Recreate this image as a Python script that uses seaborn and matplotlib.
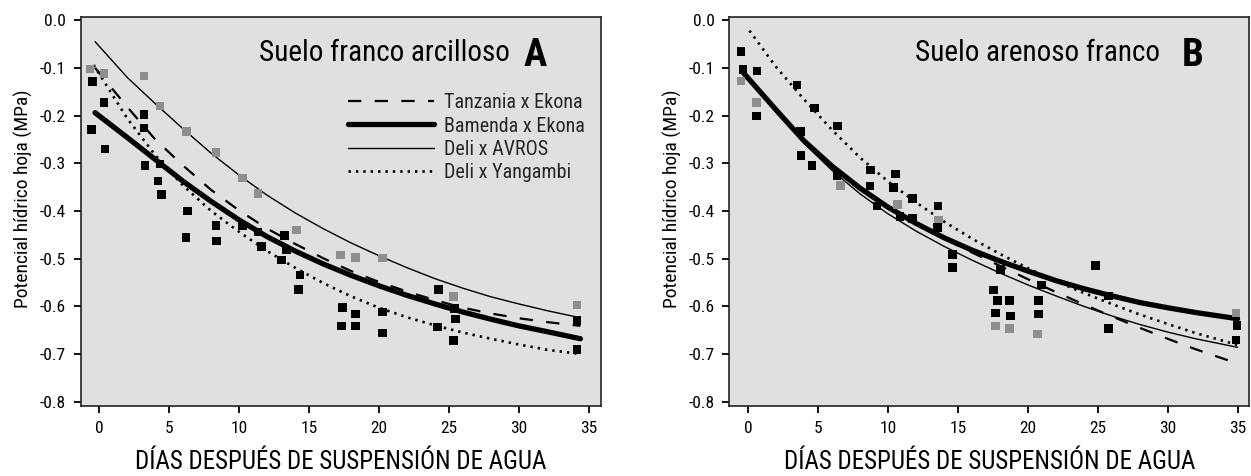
import matplotlib
matplotlib.use("Agg")
import matplotlib.pyplot as plt
import seaborn as sns
import pandas as pd
from matplotlib.lines import Line2D
from matplotlib import font_manager

# ---------------- data ----------------
genotypes = ["Tanzania x Ekona", "Bamenda x Ekona", "Deli x AVROS", "Deli x Yangambi"]

# Panel A - Suelo franco arcilloso
A_black_x = [-0.47, -0.54, 0.34, 0.41, 3.19, 3.19, 3.26, 4.34, 4.19, 4.45, 6.31, 6.19, 8.34, 8.39,
             10.24, 11.36, 11.6, 13.26, 13.38, 13.03, 14.34, 14.24, 17.38, 17.34, 18.34, 18.34,
             20.24, 20.24, 24.26, 24.17, 25.4, 25.48, 25.34, 34.17, 34.17]
A_black_y = [-0.129, -0.229, -0.173, -0.270, -0.198, -0.226, -0.305, -0.302, -0.337, -0.366, -0.400,
             -0.456, -0.430, -0.463, -0.432, -0.444, -0.475, -0.452, -0.482, -0.503, -0.534, -0.565,
             -0.603, -0.641, -0.616, -0.641, -0.612, -0.656, -0.565, -0.643, -0.604, -0.627, -0.672,
             -0.630, -0.691]
A_gray_x = [-0.66, 0.34, 3.19, 4.34, 6.24, 8.34, 10.24, 11.34, 14.1, 17.26, 18.34, 20.24, 25.34, 34.17]
A_gray_y = [-0.102, -0.112, -0.117, -0.180, -0.234, -0.278, -0.331, -0.364, -0.440, -0.492, -0.498,
            -0.499, -0.579, -0.597]

A_curve_x = [-0.3, 2, 4, 6, 8, 10, 12, 14, 16, 18, 20, 22, 24, 26, 28, 30, 32, 34.4]
A_tanzania = [-0.100, -0.182, -0.250, -0.305, -0.356, -0.399, -0.437, -0.469, -0.499, -0.526, -0.549,
              -0.569, -0.587, -0.603, -0.615, -0.625, -0.633, -0.641]
A_bamenda = [-0.194, -0.246, -0.292, -0.338, -0.380, -0.419, -0.454, -0.484, -0.511, -0.535, -0.557,
             -0.577, -0.595, -0.612, -0.627, -0.641, -0.653, -0.668]
A_avros = [-0.045, -0.120, -0.175, -0.228, -0.279, -0.325, -0.367, -0.404, -0.437, -0.467, -0.494,
           -0.519, -0.542, -0.562, -0.580, -0.595, -0.609, -0.624]
A_yang_x = [-0.4, 2, 4, 6, 8, 10, 12, 14, 16, 18, 20, 22, 24, 26, 28, 30, 32, 34.4]
A_yangambi = [-0.094, -0.206, -0.283, -0.347, -0.400, -0.444, -0.484, -0.519, -0.551, -0.579, -0.603,
              -0.623, -0.640, -0.655, -0.668, -0.680, -0.691, -0.700]

# Panel B - Suelo arenoso franco
B_black_x = [-0.50, -0.36, 0.64, 0.59, 3.51, 3.74, 3.79, 4.75, 4.58, 6.41, 6.37, 8.75, 8.71, 9.23,
             10.54, 10.38, 10.85, 11.74, 11.74, 13.57, 13.53, 14.62, 14.62, 17.54, 17.82, 17.70,
             18.71, 18.78, 18.06, 20.97, 20.76, 20.76, 24.86, 25.77, 25.77, 34.95, 34.88]
B_black_y = [-0.066, -0.103, -0.107, -0.201, -0.136, -0.234, -0.284, -0.184, -0.305, -0.222, -0.326,
             -0.314, -0.348, -0.390, -0.323, -0.351, -0.412, -0.374, -0.416, -0.390, -0.435, -0.491,
             -0.519, -0.566, -0.588, -0.614, -0.588, -0.620, -0.523, -0.555, -0.588, -0.616, -0.515,
             -0.578, -0.646, -0.640, -0.671]
B_gray_x = [-0.50, 0.59, 6.61, 10.67, 13.6, 17.68, 18.71, 20.71, 34.88]
B_gray_y = [-0.128, -0.173, -0.347, -0.386, -0.419, -0.641, -0.646, -0.658, -0.614]

B_curve_x = [-0.4, 2, 4, 6, 8, 10, 12, 14, 16, 18, 20, 22, 24, 26, 28, 30, 32, 35]
B_tanzania = [-0.108, -0.190, -0.255, -0.309, -0.355, -0.394, -0.428, -0.458, -0.487, -0.515, -0.543,
              -0.570, -0.596, -0.621, -0.645, -0.668, -0.690, -0.720]
B_bamenda = [-0.108, -0.188, -0.253, -0.306, -0.352, -0.392, -0.426, -0.456, -0.482, -0.505, -0.526,
             -0.546, -0.563, -0.578, -0.592, -0.603, -0.613, -0.626]
B_avros = [-0.108, -0.190, -0.258, -0.315, -0.364, -0.406, -0.442, -0.474, -0.503, -0.530, -0.555,
           -0.578, -0.600, -0.620, -0.638, -0.654, -0.668, -0.686]
B_yang_x = [0.1, 2, 4, 6, 8, 10, 12, 14, 16, 18, 20, 22, 24, 26, 28, 30, 32, 35]
B_yangambi = [-0.022, -0.098, -0.166, -0.230, -0.288, -0.338, -0.382, -0.422, -0.458, -0.490, -0.520,
              -0.547, -0.572, -0.595, -0.617, -0.637, -0.656, -0.681]

x_ticks = [0, 5, 10, 15, 20, 25, 30, 35]
y_ticks = [0.0, -0.1, -0.2, -0.3, -0.4, -0.5, -0.6, -0.7, -0.8]
x_label = "DÍAS DESPUÉS DE SUSPENSIÓN DE AGUA"
y_label = "Potencial hídrico hoja (MPa)"
titles = ["Suelo franco arcilloso", "Suelo arenoso franco"]
letters = ["A", "B"]

# ---------------- styling ----------------
sns.set_theme(style="white")
names = {f.name for f in font_manager.fontManager.ttflist}
narrow = [n for n in ['Liberation Sans Narrow', 'Roboto Condensed', 'Open Sans Condensed',
                      'DejaVu Sans Condensed'] if n in names]
plt.rcParams['font.family'] = narrow + ['DejaVu Sans']
plt.rcParams['font.stretch'] = 'condensed'
plt.rcParams['axes.unicode_minus'] = False

BG = '#dfe0e2'
GRAY = '#8e8e8e'
line_styles = {
    "Tanzania x Ekona": dict(linewidth=1.6, linestyle=(0, (6, 6))),
    "Bamenda x Ekona": dict(linewidth=3.8, linestyle='-'),
    "Deli x AVROS": dict(linewidth=1.0, linestyle='-'),
    "Deli x Yangambi": dict(linewidth=1.9, linestyle=(0, (0.9, 1.9))),
}

fig = plt.figure(figsize=(12.51, 4.76), dpi=100)
axA = fig.add_axes([0.06435, 0.14706, 0.4158, 0.8166])
axB = fig.add_axes([0.58297, 0.14706, 0.4158, 0.8166])

panels = [
    (axA, A_black_x, A_black_y, A_gray_x, A_gray_y,
     [(A_curve_x, A_tanzania), (A_curve_x, A_bamenda), (A_curve_x, A_avros), (A_yang_x, A_yangambi)]),
    (axB, B_black_x, B_black_y, B_gray_x, B_gray_y,
     [(B_curve_x, B_tanzania), (B_curve_x, B_bamenda), (B_curve_x, B_avros), (B_yang_x, B_yangambi)]),
]

for i, (ax, bx, by, gx, gy, curves) in enumerate(panels):
    ax.set_facecolor(BG)
    for g, (cx, cy) in zip(genotypes, curves):
        df = pd.DataFrame({"x": cx, "y": cy})
        sns.lineplot(data=df, x="x", y="y", ax=ax, color='black', sort=False,
                     estimator=None, zorder=2, **line_styles[g])
    sns.scatterplot(x=gx, y=gy, ax=ax, marker='s', s=38, color=GRAY,
                    edgecolor='none', linewidth=0, zorder=3)
    sns.scatterplot(x=bx, y=by, ax=ax, marker='s', s=38, color='black',
                    edgecolor='none', linewidth=0, zorder=4)

    ax.set_xlim(-1.34, 35.85)
    ax.set_ylim(-0.809, 0.006)
    ax.set_xticks(x_ticks)
    ax.set_xticklabels([str(t) for t in x_ticks])
    ax.set_yticks(y_ticks)
    ax.set_yticklabels([f"{t:.1f}" for t in y_ticks])
    ax.tick_params(axis='both', which='major', direction='out', length=5, width=1.3,
                   color='black', labelsize=12.5, pad=5.5, labelcolor='black',
                   bottom=True, left=True)
    for sp in ax.spines.values():
        sp.set_color('#222222')
        sp.set_linewidth(1.2)

    ax.set_xlabel(x_label, fontsize=18, color='black')
    ax.xaxis.set_label_coords(0.5, -0.112)
    ax.xaxis.label.set_va('top')
    ax.set_ylabel(y_label, fontsize=14, color='black')
    ax.yaxis.set_label_coords(-0.0907, 0.534)

    tx = 0.826 if i == 0 else 0.828
    lx = 0.852 if i == 0 else 0.870
    ax.text(tx, 0.907, titles[i], transform=ax.transAxes, fontsize=21,
            ha='right', va='center', color='black')
    ax.text(lx, 0.903, letters[i], transform=ax.transAxes, fontsize=28,
            fontweight='bold', ha='left', va='center', color='black')

handles = [Line2D([0], [0], color='black', **line_styles[g]) for g in genotypes]
axA.legend(handles, genotypes, loc='upper left', bbox_to_anchor=(0.514, 0.805),
           frameon=False, fontsize=14.5, handlelength=4.3, handletextpad=0.45,
           labelspacing=0.22, borderpad=0, borderaxespad=0)

fig.savefig("out.png", dpi=100)
